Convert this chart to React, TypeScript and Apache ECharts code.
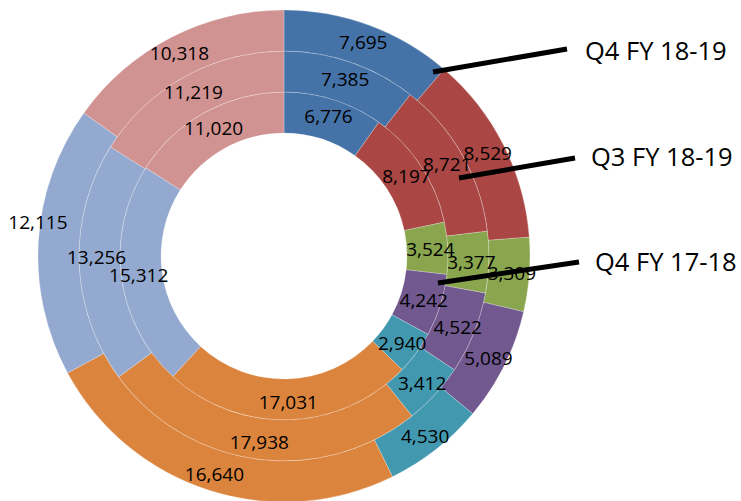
import React, { useEffect, useRef } from "react";
import * as echarts from "echarts";

const categories = ["A", "B", "C", "D", "E", "F", "G", "H"];
const colors = ["#4572A7", "#AA4643", "#89A54E", "#71588F", "#4198AF", "#DB843D", "#93A9CF", "#D19392"];
const seriesNames = ["Q4 FY 17-18", "Q3 FY 18-19", "Q4 FY 18-19"];
const q4fy1718 = [6776, 8197, 3524, 4242, 2940, 17031, 15312, 11020];
const q3fy1819 = [7385, 8721, 3377, 4522, 3412, 17938, 13256, 11219];
const q4fy1819 = [7695, 8529, 3309, 5089, 4530, 16640, 12115, 10318];

const FONT = "'Open Sans', 'Liberation Sans', sans-serif";

export default function App() {
  const ref = useRef<HTMLDivElement>(null);
  useEffect(() => {
    if (!ref.current) return;
    const chart = echarts.init(ref.current, undefined, { renderer: "svg" });
    const cx = 284;
    const cy = 256;
    const radii = [
      [123, 164],
      [164, 205],
      [205, 246],
    ];
    const nudges: Record<string, { dx: number; dy: number }> = {
      "1-6": { dx: 0, dy: -6 },
      "2-6": { dx: -18, dy: -20 },
    };
    const values = [q4fy1718, q3fy1819, q4fy1819];
    const series = values.map((vals, si) => ({
      type: "pie",
      name: seriesNames[si],
      center: [cx, cy],
      radius: radii[si],
      startAngle: 90,
      clockwise: true,
      avoidLabelOverlap: false,
      silent: true,
      emphasis: { disabled: true },
      itemStyle: { borderColor: "rgba(255,255,255,0.4)", borderWidth: 0.6 },
      label: {
        show: true,
        position: "inside",
        rotate: 0,
        color: "#000",
        fontFamily: FONT,
        fontSize: 19,
        formatter: (p: any) => Number(p.value).toLocaleString("en-US"),
      },
      labelLine: { show: false },
      labelLayout: (params: any) => nudges[`${si}-${params.dataIndex}`] || {},
      data: vals.map((v, i) => ({ name: categories[i], value: v, itemStyle: { color: colors[i] } })),
    }));

    const legendItems = [
      { text: seriesNames[2], tx: 585, ty: 50, lx1: 433, ly1: 72, lx2: 567, ly2: 49 },
      { text: seriesNames[1], tx: 591, ty: 156, lx1: 459, ly1: 178, lx2: 575, ly2: 158 },
      { text: seriesNames[0], tx: 595, ty: 261, lx1: 438, ly1: 283, lx2: 579, ly2: 262 },
    ];
    const graphic: any[] = [];
    legendItems.forEach((g) => {
      graphic.push({
        type: "line",
        z: 100,
        shape: { x1: g.lx1, y1: g.ly1, x2: g.lx2, y2: g.ly2 },
        style: { stroke: "#000", lineWidth: 5 },
      });
      graphic.push({
        type: "text",
        z: 100,
        x: g.tx,
        y: g.ty,
        style: {
          text: g.text,
          fill: "#000",
          font: `25.5px ${FONT}`,
          textVerticalAlign: "middle",
          textAlign: "left",
        },
      });
    });

    chart.setOption({
      animation: false,
      backgroundColor: "#fff",
      series,
      graphic,
    });
    return () => chart.dispose();
  }, []);
  return (
    <div
      ref={ref}
      style={{ position: "fixed", left: 0, top: 0, width: 741, height: 501 }}
    />
  );
}
